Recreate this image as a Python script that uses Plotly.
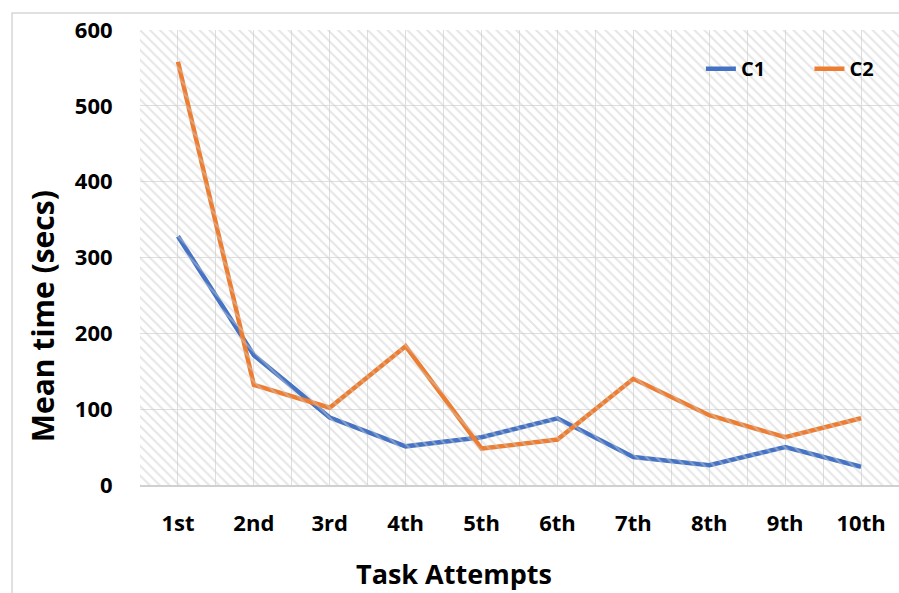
import plotly.graph_objects as go

attempts = ["1st", "2nd", "3rd", "4th", "5th", "6th", "7th", "8th", "9th", "10th"]
c1_values = [328, 171, 89, 51, 63, 88, 37, 26, 50, 24]
c2_values = [558, 132, 102, 183, 48, 60, 140, 92, 63, 88]
y_ticks = [0, 100, 200, 300, 400, 500, 600]

xpos = list(range(len(attempts)))
bounds = [i - 0.5 for i in range(len(attempts) + 1)]

FONT = "Open Sans"
fig = go.Figure()

# hatched plot-area background on hidden overlay axes
fig.add_trace(go.Bar(
    x=[0.5], y=[1], width=[1], xaxis="x2", yaxis="y2",
    marker=dict(color="rgba(0,0,0,0)", line=dict(width=0),
                pattern=dict(shape="\\", fgcolor="#cccccc", bgcolor="rgba(0,0,0,0)",
                             size=7, solidity=0.28)),
    showlegend=False, hoverinfo="skip"))

fig.add_trace(go.Scatter(x=xpos, y=c1_values, name="C1", mode="lines",
                         line=dict(color="#4472C4", width=4.5), legend="legend"))
fig.add_trace(go.Scatter(x=xpos, y=c2_values, name="C2", mode="lines",
                         line=dict(color="#ED7D31", width=4.5), legend="legend2"))

title_font = dict(family=FONT, color="black", weight="bold")
legend_common = dict(orientation="h", y=0.915, xanchor="left", yanchor="middle",
                     bgcolor="rgba(0,0,0,0)",
                     font=dict(size=20, family=FONT, color="black", weight="bold"))

fig.update_layout(
    width=899, height=593,
    margin=dict(l=140, r=0, t=30, b=108),
    paper_bgcolor="white", plot_bgcolor="white",
    font=dict(family=FONT, color="black"),
    xaxis=dict(range=[-0.5, len(attempts) - 0.5], tickmode="array",
               tickvals=xpos, ticktext=attempts, automargin=False,
               tickfont=dict(size=22, family=FONT, color="black", weight="bold"),
               ticks="outside", ticklen=18, tickcolor="rgba(0,0,0,0)",
               showgrid=True, gridcolor="#dedede", gridwidth=1,
               minor=dict(tickmode="array", tickvals=bounds, showgrid=True,
                          gridcolor="#dedede", gridwidth=1, ticks=""),
               showline=True, linecolor="#d0d0d0", linewidth=1.5, zeroline=False),
    yaxis=dict(range=[0, 600], tickmode="array", tickvals=y_ticks, automargin=False,
               tickfont=dict(size=22, family=FONT, color="black", weight="bold"),
               ticks="outside", ticklen=22, tickcolor="rgba(0,0,0,0)",
               showgrid=True, gridcolor="#dedede", gridwidth=1, zeroline=False,
               showline=False),
    xaxis2=dict(overlaying="x", range=[0, 1], visible=False, fixedrange=True),
    yaxis2=dict(overlaying="y", range=[0, 1], visible=False, fixedrange=True),
    legend=dict(x=0.739, **legend_common),
    legend2=dict(x=0.882, **legend_common),
    annotations=[
        dict(text="Mean time (secs)", xref="paper", yref="paper", x=-0.129, y=0.371,
             xanchor="center", yanchor="middle", textangle=-90, showarrow=False,
             font=dict(size=30, **title_font)),
        dict(text="Task Attempts", xref="paper", yref="paper", x=0.414, y=-0.2395,
             xanchor="center", yanchor="bottom", showarrow=False,
             font=dict(size=27, **title_font)),
    ],
    shapes=[dict(type="rect", xref="paper", yref="paper",
                 x0=-0.1686, x1=1.05, y0=-0.4, y1=1.0374,
                 line=dict(color="#d6d6d6", width=1.5), layer="below")],
)

fig.write_html("out.html", config={"displayModeBar": False},
               post_script="document.body.style.margin='0';document.body.style.overflow='hidden';")
